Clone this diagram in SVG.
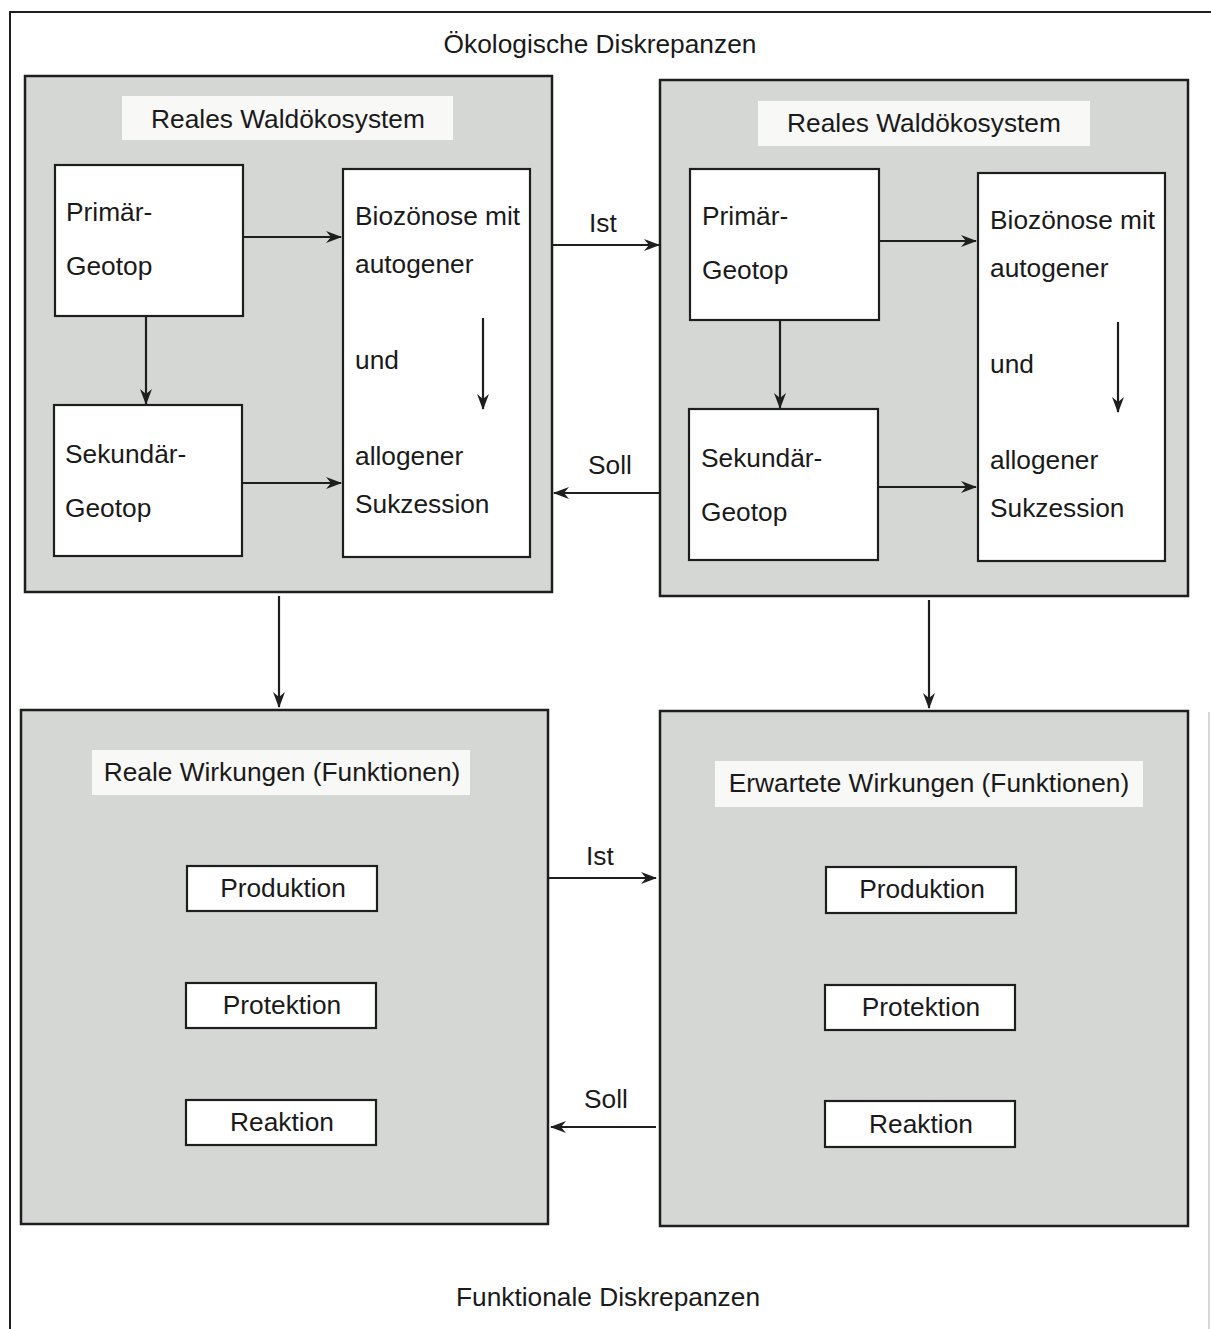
<svg xmlns="http://www.w3.org/2000/svg" width="1211" height="1329" viewBox="0 0 1211 1329">
  <defs>
    <marker id="arr" viewBox="0 0 16 12" refX="15" refY="6" markerWidth="16" markerHeight="12" markerUnits="userSpaceOnUse" orient="auto">
      <path d="M0,0 L16,6 L0,12 L5,6 z" fill="#1e1e1e"/>
    </marker>
  </defs>
  <style>
    text { font-family: "Liberation Sans", Arial, sans-serif; font-size: 26.3px; fill: #1a1a1a; }
    .panel { fill: #d5d7d4; stroke: #1e1e1e; stroke-width: 2.5; }
    .head { fill: #f8f8f6; stroke: none; }
    .box { fill: #ffffff; stroke: #1e1e1e; stroke-width: 2.2; }
    .c { text-anchor: middle; }
    .edge { stroke: #1e1e1e; stroke-width: 2.2; fill: none; marker-end: url(#arr); }
    .frame { stroke: #1e1e1e; stroke-width: 2; fill: none; }
  </style>

  <rect width="1211" height="1329" fill="#ffffff"/>

  <!-- outer frame -->
  <g id="frame">
    <path class="frame" d="M10,1329 V12 H1211"/>
    <path d="M1209,712 V1329" stroke="#c8c8c8" stroke-width="1.5" fill="none"/>
  </g>

  <text id="title-top" class="c" x="600" y="53">Ökologische Diskrepanzen</text>
  <text id="title-bottom" class="c" x="608" y="1306">Funktionale Diskrepanzen</text>

  <!-- real forest ecosystem -->
  <g id="eco-real">
    <rect class="panel" x="25" y="76" width="527" height="516"/>
    <rect class="head" x="122" y="96" width="331" height="44"/>
    <text class="c" x="288" y="128">Reales Waldökosystem</text>
  </g>
  <g id="eco-real-primaer">
    <rect class="box" x="55" y="165" width="188" height="151"/>
    <text x="66" y="221">Primär-</text>
    <text x="66" y="275">Geotop</text>
  </g>
  <g id="eco-real-sekundaer">
    <rect class="box" x="54" y="405" width="188" height="151"/>
    <text x="65" y="463">Sekundär-</text>
    <text x="65" y="517">Geotop</text>
  </g>
  <g id="eco-real-biozoenose">
    <rect class="box" x="343" y="169" width="187" height="388"/>
    <text x="355" y="225">Biozönose mit</text>
    <text x="355" y="273">autogener</text>
    <text x="355" y="369">und</text>
    <text x="355" y="465">allogener</text>
    <text x="355" y="513">Sukzession</text>
  </g>

  <!-- target forest ecosystem -->
  <g id="eco-target">
    <rect class="panel" x="660" y="80" width="528" height="516"/>
    <rect class="head" x="758" y="101" width="332" height="45"/>
    <text class="c" x="924" y="132">Reales Waldökosystem</text>
  </g>
  <g id="eco-target-primaer">
    <rect class="box" x="690" y="169" width="189" height="151"/>
    <text x="702" y="225">Primär-</text>
    <text x="702" y="279">Geotop</text>
  </g>
  <g id="eco-target-sekundaer">
    <rect class="box" x="689" y="409" width="189" height="151"/>
    <text x="701" y="467">Sekundär-</text>
    <text x="701" y="521">Geotop</text>
  </g>
  <g id="eco-target-biozoenose">
    <rect class="box" x="978" y="173" width="187" height="388"/>
    <text x="990" y="229">Biozönose mit</text>
    <text x="990" y="277">autogener</text>
    <text x="990" y="373">und</text>
    <text x="990" y="469">allogener</text>
    <text x="990" y="517">Sukzession</text>
  </g>

  <!-- real effects -->
  <g id="fx-real">
    <rect class="panel" x="21" y="710" width="527" height="514"/>
    <rect class="head" x="92" y="750" width="378" height="45"/>
    <text class="c" x="282" y="781">Reale Wirkungen (Funktionen)</text>
  </g>
  <g id="fx-real-produktion">
    <rect class="box" x="187" y="866" width="190" height="45"/>
    <text class="c" x="283" y="897">Produktion</text>
  </g>
  <g id="fx-real-protektion">
    <rect class="box" x="186" y="983" width="190" height="45"/>
    <text class="c" x="282" y="1014">Protektion</text>
  </g>
  <g id="fx-real-reaktion">
    <rect class="box" x="186" y="1100" width="190" height="45"/>
    <text class="c" x="282" y="1131">Reaktion</text>
  </g>

  <!-- expected effects -->
  <g id="fx-target">
    <rect class="panel" x="660" y="711" width="528" height="515"/>
    <rect class="head" x="715" y="761" width="428" height="46"/>
    <text class="c" x="929" y="792">Erwartete Wirkungen (Funktionen)</text>
  </g>
  <g id="fx-target-produktion">
    <rect class="box" x="826" y="867" width="190" height="46"/>
    <text class="c" x="922" y="898">Produktion</text>
  </g>
  <g id="fx-target-protektion">
    <rect class="box" x="825" y="985" width="190" height="45"/>
    <text class="c" x="921" y="1016">Protektion</text>
  </g>
  <g id="fx-target-reaktion">
    <rect class="box" x="825" y="1101" width="190" height="46"/>
    <text class="c" x="921" y="1133">Reaktion</text>
  </g>

  <!-- connectors -->
  <g id="connectors">
    <path class="edge" d="M243,237 H341"/>
    <path class="edge" d="M146,316 V404"/>
    <path class="edge" d="M242,483 H341"/>
    <path class="edge" d="M483,318 V409"/>

    <path class="edge" d="M879,241 H976"/>
    <path class="edge" d="M780,320 V408"/>
    <path class="edge" d="M878,487 H976"/>
    <path class="edge" d="M1118,322 V412"/>

    <path class="edge" d="M553,245 H659"/>
    <path class="edge" d="M659,493 H554"/>
    <path class="edge" d="M279,596 V707"/>
    <path class="edge" d="M929,600 V708"/>
    <path class="edge" d="M548,878 H656"/>
    <path class="edge" d="M656,1127 H551"/>

    <text x="589" y="232">Ist</text>
    <text x="588" y="474">Soll</text>
    <text x="586" y="865">Ist</text>
    <text x="584" y="1108">Soll</text>
  </g>
</svg>
